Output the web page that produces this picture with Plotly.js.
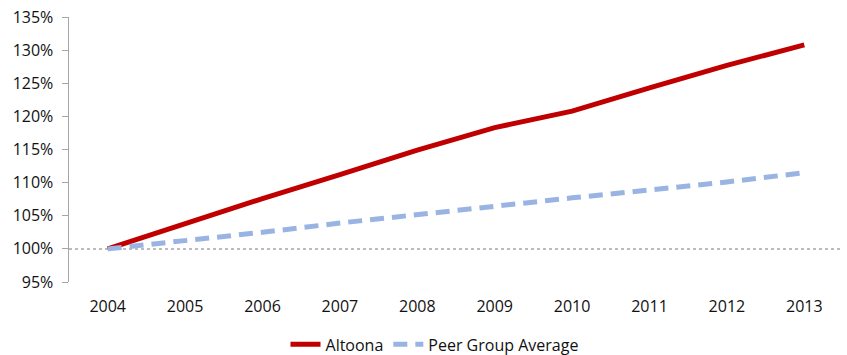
<!DOCTYPE html>
<html>
<head>
<meta charset="utf-8">
<script src="https://cdn.plot.ly/plotly-3.0.1.min.js"></script>
<style>html,body{margin:0;padding:0;background:#fff;}#chart{width:847px;height:355px;}</style>
</head>
<body>
<div id="chart"></div>
<script>
const years = ['2004','2005','2006','2007','2008','2009','2010','2011','2012','2013'];
const altoona = [100, 103.8, 107.6, 111.2, 114.9, 118.3, 120.8, 124.3, 127.7, 130.8];
const peerAvg = [100, 101.2, 102.5, 103.9, 105.2, 106.5, 107.7, 108.9, 110.1, 111.5];
const yTicks = [95, 100, 105, 110, 115, 120, 125, 130, 135];

const traces = [
  {x: years, y: altoona, name: 'Altoona', type: 'scatter', mode: 'lines',
   line: {color: '#C00000', width: 5}},
  {x: years, y: peerAvg, name: 'Peer Group Average', type: 'scatter', mode: 'lines',
   line: {color: '#99B4E3', width: 5, dash: '14px,8px'}}
];

const layout = {
  width: 847, height: 355,
  margin: {l: 69, r: 4, t: 17, b: 73, autoexpand: false},
  paper_bgcolor: '#fff', plot_bgcolor: '#fff',
  font: {family: '"Open Sans", Lato, sans-serif', size: 16, color: '#111'},
  showlegend: true,
  legend: {orientation: 'h', xref: 'container', yref: 'container', x: 0.513, xanchor: 'center',
           y: 0.03, yanchor: 'middle', font: {size: 16}, tracegroupgap: 0},
  xaxis: {type: 'category', range: [-0.5, 9.5], showgrid: false, zeroline: false, showline: false,
          ticks: 'outside', ticklen: 10, tickcolor: 'rgba(0,0,0,0)', tickfont: {size: 16}},
  yaxis: {range: [95, 135], tickvals: yTicks, ticktext: yTicks.map(v => v + '%'),
          showgrid: false, zeroline: false, showline: true, linecolor: '#A6A6A6', linewidth: 1.5,
          ticks: 'outside', ticklen: 6, tickcolor: '#A6A6A6', tickfont: {size: 16},
          ticklabelstandoff: 5},
  shapes: [{type: 'line', xref: 'paper', yref: 'y', x0: 0, x1: 1, y0: 100, y1: 100,
            line: {color: '#A6A6A6', width: 1.5, dash: 'dot'}, layer: 'below'}]
};

Plotly.newPlot('chart', traces, layout, {displayModeBar: false, staticPlot: true});
</script>
</body>
</html>
